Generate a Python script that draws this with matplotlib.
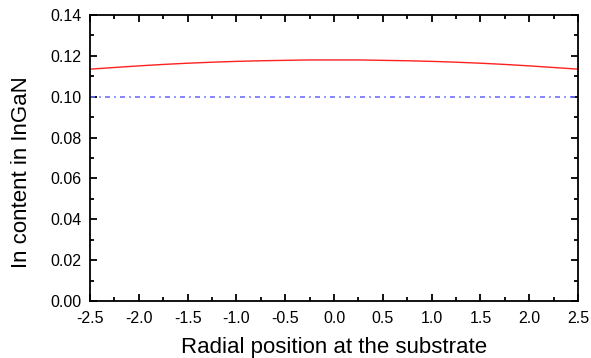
import matplotlib
matplotlib.use("Agg")
import matplotlib.pyplot as plt
from matplotlib.ticker import MultipleLocator, FormatStrFormatter

plt.rcParams['font.family'] = ['Liberation Sans', 'DejaVu Sans']

x_pos = [-2.5, -2.25, -2.0, -1.75, -1.5, -1.25, -1.0, -0.75, -0.5, -0.25, 0.0,
         0.25, 0.5, 0.75, 1.0, 1.25, 1.5, 1.75, 2.0, 2.25, 2.5]
in_content = [0.1135, 0.1143, 0.1151, 0.1158, 0.1164, 0.1169, 0.1173, 0.1176, 0.1178, 0.1180, 0.1180,
              0.1180, 0.1178, 0.1176, 0.1173, 0.1169, 0.1164, 0.1158, 0.1151, 0.1143, 0.1135]
ref_x = [-2.5, 2.5]
ref_y = [0.10, 0.10]

fig = plt.figure(figsize=(5.91, 3.58), dpi=100)
ax = fig.add_axes([90/591, 1-301/358, (578-90)/591, (301-15)/358])

ax.plot(x_pos, in_content, color='#ff2020', lw=1.0)
ax.plot(ref_x, ref_y, color='#7070ff', lw=1.2, linestyle=(0, (3, 2.5, 1, 2.5)))

ax.set_xlim(-2.5, 2.5)
ax.set_ylim(0.0, 0.14)
ax.xaxis.set_major_locator(MultipleLocator(0.5))
ax.xaxis.set_minor_locator(MultipleLocator(0.25))
ax.yaxis.set_major_locator(MultipleLocator(0.02))
ax.yaxis.set_minor_locator(MultipleLocator(0.01))
ax.xaxis.set_major_formatter(FormatStrFormatter('%.1f'))
ax.yaxis.set_major_formatter(FormatStrFormatter('%.2f'))
ax.tick_params(which='both', direction='in', top=True, right=True, width=1.3, labelsize=11.5)
ax.tick_params(which='major', length=5)
ax.tick_params(which='minor', length=3)
ax.tick_params(axis='x', which='major', pad=7)
ax.tick_params(axis='y', which='major', pad=6)
for s in ax.spines.values():
    s.set_linewidth(1.3)

ax.set_xlabel('Radial position at the substrate', fontsize=16)
ax.set_ylabel('In content in InGaN', fontsize=16)
ax.xaxis.set_label_coords(0.5, -(347 - 301) / 286, transform=ax.transAxes)
ax.xaxis.label.set_verticalalignment('center')
ax.yaxis.set_label_coords(-(90 - 21) / 488, 0.5 - 14 / 286, transform=ax.transAxes)
ax.yaxis.label.set_verticalalignment('center')

fig.savefig('out.png', dpi=100)
